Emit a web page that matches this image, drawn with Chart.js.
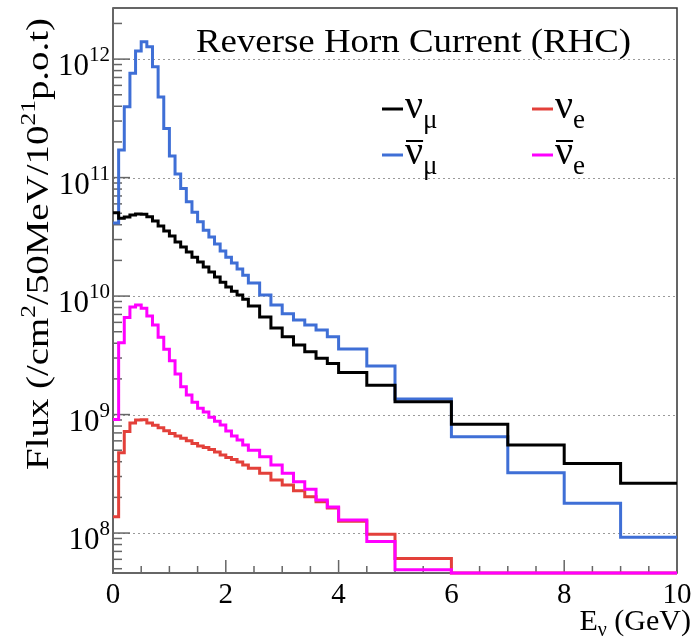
<!DOCTYPE html>
<html>
<head>
<meta charset="utf-8">
<script src="https://cdn.jsdelivr.net/npm/chart.js@4.4.1/dist/chart.umd.min.js"></script>
<style>
  html, body { margin: 0; padding: 0; background: #fff; }
  canvas { display: block; }
</style>
</head>
<body>
<canvas id="flux" width="697" height="637"></canvas>
<script>
/* ---------- Data ---------- */
// bin edges in GeV: 0.1 GeV up to 2.4, 0.2 GeV up to 4, then 0.5 and 1 GeV bins
var BIN_EDGES = [0, 0.1, 0.2, 0.3, 0.4, 0.5, 0.6, 0.7, 0.8, 0.9,
  1.0, 1.1, 1.2, 1.3, 1.4, 1.5, 1.6, 1.7, 1.8, 1.9,
  2.0, 2.1, 2.2, 2.3, 2.4, 2.6, 2.8, 3.0, 3.2, 3.4,
  3.6, 3.8, 4.0, 4.5, 5, 6, 7, 8, 9, 10];

var Y_MIN = 4.6e7;
var Y_MAX = 2.7e12;

var NUMU = [5.05e10, 4.53e10, 4.64e10, 4.83e10, 4.92e10, 4.9e10, 4.67e10, 4.3e10, 3.9e10, 3.54e10,
  3.21e10, 2.86e10, 2.59e10, 2.35e10, 2.13e10, 1.94e10, 1.76e10, 1.6e10, 1.45e10, 1.31e10,
  1.19e10, 1.1e10, 1.02e10, 9.4e9, 8.24e9, 6.65e9, 5.37e9, 4.54e9, 3.86e9, 3.39e9,
  2.98e9, 2.7e9, 2.27e9, 1.77e9, 1.28e9, 8.3e8, 5.53e8, 3.87e8, 2.63e8];

var NUMUBAR = [4.13e10, 1.71e11, 3.96e11, 7.6e11, 1.17e12, 1.4e12, 1.27e12, 8.6e11, 4.8e11, 2.6e11,
  1.52e11, 1.07e11, 8.1e10, 6.25e10, 5.1e10, 4.24e10, 3.6e10, 3.15e10, 2.75e10, 2.4e10,
  2.13e10, 1.9e10, 1.69e10, 1.5e10, 1.29e10, 1.02e10, 8.4e9, 7.1e9, 6.27e9, 5.69e9,
  5.17e9, 4.54e9, 3.57e9, 2.57e9, 1.35e9, 6.5e8, 3.23e8, 1.78e8, 9.2e7];

// bins above 6 GeV sit on the bottom of the frame
var NUE = [1.37e8, 4.77e8, 7.2e8, 8.5e8, 9.0e8, 9.05e8, 8.5e8, 8.11e8, 7.74e8, 7.3e8,
  6.93e8, 6.59e8, 6.3e8, 6.01e8, 5.71e8, 5.42e8, 5.27e8, 5.07e8, 4.83e8, 4.55e8,
  4.34e8, 4.17e8, 3.97e8, 3.75e8, 3.52e8, 3.19e8, 2.8e8, 2.54e8, 2.28e8, 2.02e8,
  1.84e8, 1.63e8, 1.26e8, 9.75e7, 6.1e7, 4.6e7, 4.6e7, 4.6e7, 4.6e7];

var NUEBAR = [9.1e8, 4.04e9, 6.6e9, 8.1e9, 8.4e9, 7.9e9, 6.8e9, 5.7e9, 4.5e9, 3.55e9,
  2.84e9, 2.2e9, 1.72e9, 1.46e9, 1.27e9, 1.13e9, 1.05e9, 9.5e8, 8.8e8, 8.15e8,
  7.26e8, 6.59e8, 6.1e8, 5.53e8, 5.0e8, 4.4e8, 3.75e8, 3.19e8, 2.71e8, 2.34e8,
  1.9e8, 1.66e8, 1.29e8, 8.5e7, 4.9e7, 4.6e7, 4.6e7, 4.6e7, 4.6e7];

var X_MAJOR = [0, 2, 4, 6, 8, 10];
var Y_MAJOR = [1e8, 1e9, 1e10, 1e11, 1e12];
var Y_EXP = ['8', '9', '10', '11', '12'];

var COLORS = { numu: '#000000', numubar: '#3f6fd6', nue: '#e3403a', nuebar: '#ff00ff' };

/* ---------- Text helpers ---------- */
var SERIF = '"Liberation Serif", "Times New Roman", serif';

function setFont(ctx, px) { ctx.font = px + 'px ' + SERIF; }

// parts: [text, size, dy]
function richWidth(ctx, parts) {
  var w = 0;
  parts.forEach(function (p) { setFont(ctx, p[1]); w += ctx.measureText(p[0]).width; });
  return w;
}

function drawRich(ctx, x, y, parts) {
  parts.forEach(function (p) {
    setFont(ctx, p[1]);
    ctx.fillText(p[0], x, y + (p[2] || 0));
    x += ctx.measureText(p[0]).width;
  });
}

/* ---------- Frame, ticks, labels ---------- */
var rootFrame = {
  id: 'rootFrame',
  beforeDatasetsDraw: function (chart) {
    var ctx = chart.ctx, a = chart.chartArea;
    var xs = chart.scales.x, ys = chart.scales.y;
    ctx.save();

    // dotted grid at decades
    ctx.strokeStyle = '#9a9a9a';
    ctx.lineWidth = 1;
    ctx.setLineDash([2, 3]);
    Y_MAJOR.forEach(function (v) {
      var y = Math.round(ys.getPixelForValue(v)) + 0.5;
      ctx.beginPath(); ctx.moveTo(a.left, y); ctx.lineTo(a.right, y); ctx.stroke();
    });
    ctx.setLineDash([]);

    // frame
    ctx.strokeStyle = '#333';
    ctx.lineWidth = 1.5;
    ctx.strokeRect(a.left, a.top, a.right - a.left, a.bottom - a.top);
    ctx.strokeStyle = '#666';
    ctx.lineWidth = 2;
    ctx.beginPath();
    ctx.moveTo(a.left, a.top); ctx.lineTo(a.left, a.bottom); ctx.lineTo(a.right, a.bottom);
    ctx.stroke();

    // y ticks (inward)
    ctx.lineWidth = 1.5;
    for (var d = 7; d <= 12; d++) {
      for (var k = 1; k <= 9; k++) {
        var v = k * Math.pow(10, d);
        if (v < Y_MIN || v > Y_MAX) continue;
        var y = ys.getPixelForValue(v);
        ctx.beginPath();
        ctx.moveTo(a.left, y); ctx.lineTo(a.left + (k === 1 ? 17 : 9), y);
        ctx.stroke();
      }
    }
    // x ticks (inward)
    for (var t = 0; t <= 10; t += 0.5) {
      var x = xs.getPixelForValue(t);
      ctx.beginPath();
      ctx.moveTo(x, a.bottom); ctx.lineTo(x, a.bottom - (t % 2 === 0 ? 13 : 7));
      ctx.stroke();
    }

    // tick labels
    ctx.fillStyle = '#000';
    ctx.textBaseline = 'alphabetic';
    X_MAJOR.forEach(function (t) {
      var parts = [[String(t), 29, 0]];
      var w = richWidth(ctx, parts);
      drawRich(ctx, xs.getPixelForValue(t) - w / 2, a.bottom + 30, parts);
    });
    Y_MAJOR.forEach(function (v, i) {
      var parts = [['10', 31, 0], [Y_EXP[i], 21, -14]];
      var w = richWidth(ctx, parts);
      drawRich(ctx, a.left - 3 - w, ys.getPixelForValue(v) + 16, parts);
    });

    // axis titles
    var xt = [['E', 30, 0], ['\u03bd', 20, 6], [' (GeV)', 30, 0]];
    drawRich(ctx, 691 - richWidth(ctx, xt), 630, xt);

    var yt = [['Flux (/cm', 32, 0], ['2', 21, -13], ['/50MeV/10', 32, 0], ['21', 21, -13], ['p.o.t)', 32, 0]];
    var yw = richWidth(ctx, yt);
    ctx.save();
    ctx.translate(48, 470);
    ctx.rotate(-Math.PI / 2);
    ctx.scale(452 / yw, 1);
    drawRich(ctx, 0, 0, yt);
    ctx.restore();

    ctx.restore();
  },
  afterDatasetsDraw: function (chart) {
    var ctx = chart.ctx;
    ctx.save();
    ctx.fillStyle = '#000';
    ctx.textBaseline = 'alphabetic';

    // title
    var title = 'Reverse Horn Current (RHC)';
    setFont(ctx, 33);
    var tw = ctx.measureText(title).width;
    ctx.save();
    ctx.translate(196, 52);
    ctx.scale(435 / tw, 1);
    ctx.fillText(title, 0, 0);
    ctx.restore();

    // legend, two columns
    var entries = [
      { key: 'numu', x: 382, y: 118, sub: '\u03bc', bar: false },
      { key: 'nue', x: 532, y: 118, sub: 'e', bar: false },
      { key: 'numubar', x: 382, y: 164, sub: '\u03bc', bar: true },
      { key: 'nuebar', x: 532, y: 164, sub: 'e', bar: true }
    ];
    entries.forEach(function (e) {
      ctx.strokeStyle = COLORS[e.key];
      ctx.lineWidth = 3;
      ctx.beginPath();
      ctx.moveTo(e.x, e.y - 9); ctx.lineTo(e.x + 21, e.y - 9);
      ctx.stroke();
      setFont(ctx, 40);
      var nx = e.x + 23;
      ctx.fillText('\u03bd', nx, e.y);
      var nw = ctx.measureText('\u03bd').width;
      if (e.bar) {
        ctx.strokeStyle = '#000';
        ctx.lineWidth = 2;
        ctx.beginPath();
        ctx.moveTo(nx + 1, e.y - 23); ctx.lineTo(nx + nw, e.y - 23);
        ctx.stroke();
      }
      setFont(ctx, 27);
      ctx.fillText(e.sub, nx + nw, e.y + 10);
    });
    ctx.restore();
  }
};

/* ---------- Chart ---------- */
function histPoints(values) {
  var pts = values.map(function (v, i) { return { x: BIN_EDGES[i], y: v }; });
  pts.push({ x: BIN_EDGES[BIN_EDGES.length - 1], y: values[values.length - 1] });
  return pts;
}

function histDataset(label, values, color) {
  return {
    label: label,
    data: histPoints(values),
    borderColor: color,
    borderWidth: 3,
    stepped: true,
    pointRadius: 0,
    fill: false,
    clip: false,
    borderJoinStyle: 'miter',
    borderCapStyle: 'butt'
  };
}

new Chart(document.getElementById('flux'), {
  type: 'line',
  data: {
    // first dataset is drawn on top
    datasets: [
      histDataset('nuebar', NUEBAR, COLORS.nuebar),
      histDataset('nue', NUE, COLORS.nue),
      histDataset('numu', NUMU, COLORS.numu),
      histDataset('numubar', NUMUBAR, COLORS.numubar)
    ]
  },
  options: {
    responsive: false,
    animation: false,
    devicePixelRatio: 1,
    layout: { padding: { left: 113, top: 8, right: 20, bottom: 64 } },
    scales: {
      x: { type: 'linear', min: 0, max: 10, display: false },
      y: { type: 'logarithmic', min: Y_MIN, max: Y_MAX, display: false }
    },
    plugins: { legend: { display: false }, tooltip: { enabled: false } }
  },
  plugins: [rootFrame]
});
</script>
</body>
</html>
